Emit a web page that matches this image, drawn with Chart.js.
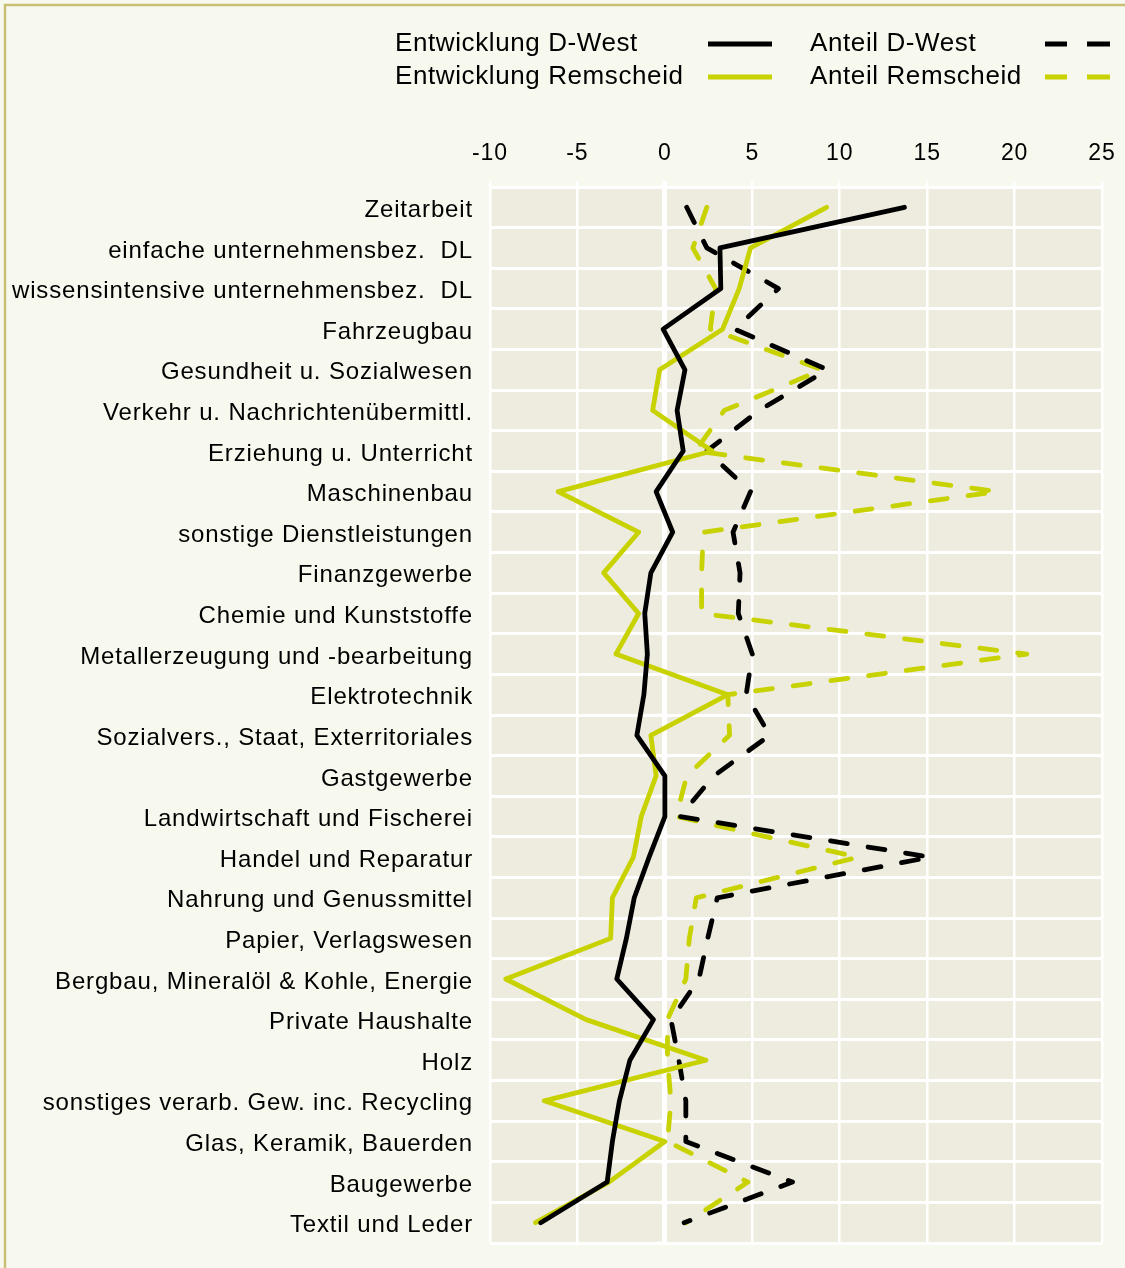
<!DOCTYPE html>
<html>
<head>
<meta charset="utf-8">
<script src="https://cdn.jsdelivr.net/npm/chart.js@4.4.1/dist/chart.umd.min.js"></script>
<style>
  body { margin:0; background:#f8f9ee; }
  canvas { display:block; }
</style>
</head>
<body>
<canvas id="chart" width="1125" height="1268"></canvas>
<script>
// Branchen, von oben nach unten
const categories = [
  'Zeitarbeit',
  'einfache unternehmensbez.  DL',
  'wissensintensive unternehmensbez.  DL',
  'Fahrzeugbau',
  'Gesundheit u. Sozialwesen',
  'Verkehr u. Nachrichtenübermittl.',
  'Erziehung u. Unterricht',
  'Maschinenbau',
  'sonstige Dienstleistungen',
  'Finanzgewerbe',
  'Chemie und Kunststoffe',
  'Metallerzeugung und -bearbeitung',
  'Elektrotechnik',
  'Sozialvers., Staat, Exterritoriales',
  'Gastgewerbe',
  'Landwirtschaft und Fischerei',
  'Handel und Reparatur',
  'Nahrung und Genussmittel',
  'Papier, Verlagswesen',
  'Bergbau, Mineralöl & Kohle, Energie',
  'Private Haushalte',
  'Holz',
  'sonstiges verarb. Gew. inc. Recycling',
  'Glas, Keramik, Bauerden',
  'Baugewerbe',
  'Textil und Leder'
];

const entwicklungWest = [13.7, 3.15, 3.2, -0.1, 1.15, 0.7, 1.05, -0.5, 0.45, -0.8, -1.15, -1.0, -1.2,
  -1.6, 0.0, 0.0, -0.9, -1.75, -2.2, -2.75, -0.65, -2.0, -2.6, -3.0, -3.3, -7.1];
const entwicklungRS = [9.25, 4.9, 4.25, 3.3, -0.3, -0.7, 2.7, -6.1, -1.5, -3.5, -1.5, -2.8, 3.6,
  -0.8, -0.5, -1.35, -1.8, -3.0, -3.1, -9.1, -4.5, 2.35, -6.9, 0.0, -3.2, -7.4];
const anteilWest = [1.25, 2.4, 6.5, 4.0, 9.3, 5.4, 2.4, 4.9, 3.9, 4.3, 4.2, 5.0, 4.65,
  6.0, 2.8, 0.85, 15.2, 3.0, 2.45, 1.95, 0.35, 0.8, 1.2, 1.2, 7.3, 1.1];
const anteilRS = [2.4, 1.6, 2.9, 2.6, 9.0, 3.4, 1.75, 19.0, 2.2, 2.1, 2.1, 20.7, 3.6,
  3.7, 1.25, 0.65, 11.05, 1.8, 1.4, 1.2, 0.15, 0.15, 0.35, 0.15, 4.75, 1.2];

const xTicks = { min: -10, max: 25, step: 5 };

const BLACK = '#000000';
const LIME = '#c8d200';
const DASH = [17, 21];
const FONT = '"Liberation Sans", Arial, sans-serif';

function ds(label, data, color, dashed) {
  return {
    label, data,
    borderColor: color,
    backgroundColor: color,
    borderWidth: 4.8,
    borderDash: dashed ? DASH : [],
    borderCapStyle: 'round',
    borderJoinStyle: 'round',
    pointRadius: 0,
    tension: 0,
    fill: false
  };
}

// Hintergrund, Rahmen, Plotfläche
const bgPlugin = {
  id: 'bg',
  beforeDraw(chart) {
    const { ctx, chartArea: a } = chart;
    ctx.letterSpacing = '0.85px'; // etwas weitere Laufweite wie im Original
    ctx.save();
    ctx.fillStyle = '#f8f9ee';
    ctx.fillRect(0, 0, chart.width, chart.height);
    ctx.strokeStyle = '#c6bf74';
    ctx.lineWidth = 2.5;
    ctx.strokeRect(5, 5, chart.width + 10, chart.height + 10);
    ctx.fillStyle = '#eeecdf';
    ctx.fillRect(a.left, a.top, a.right - a.left, a.bottom - a.top);
    ctx.restore();
  },
  beforeDatasetsDraw(chart) {
    // kleine Teilstriche links an der Nulllinie
    const { ctx, scales } = chart;
    const x0 = scales.x.getPixelForValue(0);
    const y = scales.y;
    const h = (y.getPixelForValue(1) - y.getPixelForValue(0)) / 2;
    ctx.save();
    ctx.strokeStyle = '#ffffff';
    ctx.lineWidth = 3;
    for (let i = 0; i <= categories.length; i++) {
      const py = y.getPixelForValue(0) - h + i * 2 * h;
      ctx.beginPath();
      ctx.moveTo(x0 - 8, py);
      ctx.lineTo(x0, py);
      ctx.stroke();
    }
    ctx.restore();
  }
};

// Legende: Text links, Linienmuster rechts
const legendPlugin = {
  id: 'customLegend',
  afterDraw(chart) {
    const { ctx } = chart;
    const items = [
      { i: 0, tx: 395, lx: 708, y: 44 },
      { i: 1, tx: 395, lx: 708, y: 77 },
      { i: 2, tx: 810, lx: 1045, y: 44 },
      { i: 3, tx: 810, lx: 1045, y: 77 }
    ];
    ctx.save();
    ctx.font = '26px ' + FONT;
    ctx.letterSpacing = '0.6px';
    ctx.textBaseline = 'middle';
    ctx.textAlign = 'left';
    items.forEach(it => {
      const d = chart.data.datasets[it.i];
      ctx.fillStyle = '#000';
      ctx.fillText(d.label, it.tx, it.y);
      ctx.strokeStyle = d.borderColor;
      ctx.lineWidth = 5;
      ctx.lineCap = 'butt';
      ctx.beginPath();
      if (d.borderDash.length) {
        ctx.moveTo(it.lx, it.y); ctx.lineTo(it.lx + 22, it.y);
        ctx.moveTo(it.lx + 42, it.y); ctx.lineTo(it.lx + 65, it.y);
      } else {
        ctx.moveTo(it.lx, it.y); ctx.lineTo(it.lx + 64, it.y);
      }
      ctx.stroke();
    });
    ctx.restore();
  }
};

const PAD_TOP = 100;
const PLOT_TOP = 187;
const PLOT_LEFT = 490;

new Chart(document.getElementById('chart'), {
  type: 'line',
  data: {
    labels: categories,
    datasets: [
      ds('Entwicklung D-West', entwicklungWest, BLACK, false),
      ds('Entwicklung Remscheid', entwicklungRS, LIME, false),
      ds('Anteil D-West', anteilWest, BLACK, true),
      ds('Anteil Remscheid', anteilRS, LIME, true)
    ]
  },
  options: {
    responsive: false,
    animation: false,
    indexAxis: 'y',
    layout: { padding: { top: PAD_TOP, right: 23, bottom: 25, left: 0 } },
    plugins: {
      legend: { display: false },
      tooltip: { enabled: false }
    },
    scales: {
      x: {
        type: 'linear',
        position: 'top',
        min: xTicks.min,
        max: xTicks.max,
        ticks: {
          stepSize: xTicks.step,
          color: '#000',
          padding: 14,
          font: { family: FONT, size: 23 }
        },
        grid: {
          color: '#ffffff',
          lineWidth: c => (c.tick && c.tick.value === 0 ? 5 : 2.5),
          tickLength: 6,
          drawTicks: true
        },
        border: { display: true, color: '#ffffff', width: 2 },
        afterFit(scale) {
          scale.height = PLOT_TOP - PAD_TOP;
          scale.paddingLeft = 0;
          scale.paddingRight = 0;
        }
      },
      y: {
        type: 'category',
        offset: true,
        ticks: {
          color: '#000',
          padding: 17,
          labelOffset: 3,
          autoSkip: false,
          font: { family: FONT, size: 24 }
        },
        grid: {
          offset: true,
          color: '#ffffff',
          lineWidth: 3,
          drawTicks: false
        },
        border: { display: false },
        afterFit(scale) {
          scale.width = PLOT_LEFT;
          scale.paddingTop = 0;
          scale.paddingBottom = 0;
        }
      }
    }
  },
  plugins: [bgPlugin, legendPlugin]
});
</script>
</body>
</html>
